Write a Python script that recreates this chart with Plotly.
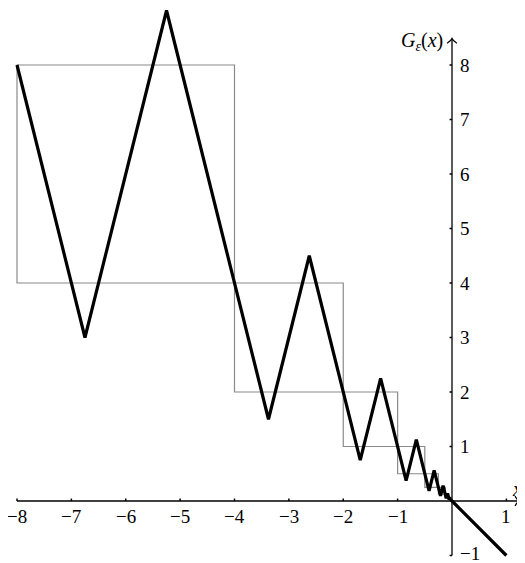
import plotly.graph_objects as go

# Zigzag vertices
zig_x = [-8, -6.75, -5.25, -4,
         -3.375, -2.625, -2,
         -1.6875, -1.3125, -1,
         -0.84375, -0.65625, -0.5,
         -0.421875, -0.328125, -0.25,
         -0.2109, -0.1641, -0.125,
         -0.1055, -0.082, -0.0625,
         -0.0527, -0.041, -0.03125,
         0, 1]
zig_y = [8, 3, 9, 4,
         1.5, 4.5, 2,
         0.75, 2.25, 1,
         0.375, 1.125, 0.5,
         0.1875, 0.5625, 0.25,
         0.09375, 0.28125, 0.125,
         0.0469, 0.1406, 0.0625,
         0.0234, 0.0703, 0.03125,
         0, -1]

# Boxes
box_x0 = [-8, -4, -2, -1, -0.5, -0.25, -0.125]
box_x1 = [-4, -2, -1, -0.5, -0.25, -0.125, -0.0625]
box_y0 = [4, 2, 1, 0.5, 0.25, 0.125, 0.0625]
box_y1 = [8, 4, 2, 1, 0.5, 0.25, 0.125]

x_ticks = [-8, -7, -6, -5, -4, -3, -2, -1, 1]
x_tick_labels = ["−8", "−7", "−6", "−5", "−4", "−3", "−2", "−1", "1"]
y_ticks = [-1, 1, 2, 3, 4, 5, 6, 7, 8]
y_tick_labels = ["−1", "1", "2", "3", "4", "5", "6", "7", "8"]

FONT = "Liberation Serif"
fig = go.Figure()

shapes = []
for a, b, c, d in zip(box_x0, box_x1, box_y0, box_y1):
    shapes.append(dict(type="rect", xref="x", yref="y", x0=a, x1=b, y0=c, y1=d,
                       line=dict(color="#8a8a8a", width=1.2), layer="below"))

# axes
shapes.append(dict(type="line", xref="x", yref="y", x0=-8, x1=1.23, y0=0, y1=0,
                   line=dict(color="black", width=1.3)))
shapes.append(dict(type="line", xref="x", yref="y", x0=0, x1=0, y0=-1, y1=8.48,
                   line=dict(color="black", width=1.3)))
# arrow heads
shapes.append(dict(type="path", xref="x", yref="y",
                   path="M 1.16,0.09 Q 1.2,0.02 1.235,0 Q 1.2,-0.02 1.16,-0.09",
                   line=dict(color="black", width=1.3)))
shapes.append(dict(type="path", xref="x", yref="y",
                   path="M -0.09,8.40 Q -0.02,8.44 0,8.485 Q 0.02,8.44 0.09,8.40",
                   line=dict(color="black", width=1.3)))
for t in x_ticks:
    shapes.append(dict(type="line", xref="x", yref="y", x0=t, x1=t, y0=0, y1=0.045,
                       line=dict(color="black", width=1.5)))
for t in y_ticks:
    shapes.append(dict(type="line", xref="x", yref="y", x0=-0.045, x1=0, y0=t, y1=t,
                       line=dict(color="black", width=1.5)))

fig.add_trace(go.Scatter(x=zig_x, y=zig_y, mode="lines", cliponaxis=False,
                         line=dict(color="black", width=3.2), hoverinfo="skip"))

ann = []
for t, lab in zip(x_ticks, x_tick_labels):
    ann.append(dict(x=t, y=-0.28, xref="x", yref="y", text=lab, showarrow=False,
                    font=dict(family=FONT, size=19, color="black"),
                    xanchor="center", yanchor="middle"))
for t, lab in zip(y_ticks, y_tick_labels):
    ann.append(dict(x=0.11, y=(t + 0.03 if t < 0 else t), xref="x", yref="y", text=lab,
                    showarrow=False,
                    font=dict(family=FONT, size=19, color="black"),
                    xanchor="left", yanchor="middle"))
ann.append(dict(x=-0.12, y=8.44, xref="x", yref="y",
                text="<i>G</i><sub><i>ε</i></sub>(<i>x</i>)", showarrow=False,
                font=dict(family=FONT, size=20, color="black"),
                xanchor="right", yanchor="middle"))
ann.append(dict(x=1.2, y=0.22, xref="x", yref="y", text="<i>x</i>", showarrow=False,
                font=dict(family=FONT, size=20, color="black"),
                xanchor="center", yanchor="middle"))

# page body has an 8px margin; figure sized/ranged so screen positions match
fig.update_layout(
    width=517, height=555,
    margin=dict(l=0, r=0, t=0, b=0),
    paper_bgcolor="white", plot_bgcolor="white",
    showlegend=False,
    xaxis=dict(range=[-8.1655, 1.3425], visible=False, fixedrange=True),
    yaxis=dict(range=[-1.1376, 9.0459], visible=False, fixedrange=True),
    shapes=shapes, annotations=ann,
)

fig.write_html("out.html")
